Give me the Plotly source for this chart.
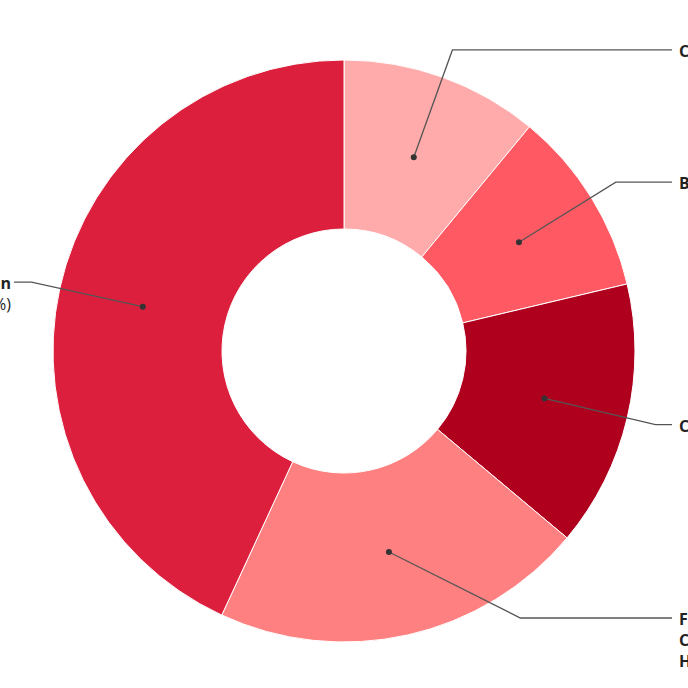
import math
import plotly.graph_objects as go

# ---- data ----
categories = ["Clothing", "Beauty", "Cosmetics", "Food, Cleaning and Household", "Transportation and Communication"]
shares = [11, 10.3, 14.8, 20.8, 43.1]
pct_labels = ["11%", "10%", "15%", "21%", "43%"]
colors = ["#FFABAB", "#FF5A64", "#AF001E", "#FF8080", "#DC1F3C"]
label_texts = [
    "<b>Clothing</b> (11%)",
    "<b>Beauty</b> (10%)",
    "<b>Cosmetics</b> (15%)",
    "<b>Food,</b><br><b>Cleaning and</b><br><b>Household</b> (21%)",
    "<b>Transportation and Communication</b><br>(43%)",
]

W = H = 688
cx, cy = 344, 351
R = 291
HOLE = 122 / 291

fig = go.Figure(go.Pie(
    labels=categories, values=shares, sort=False, direction="clockwise", rotation=0,
    hole=HOLE, textinfo="none", hoverinfo="label+percent",
    marker=dict(colors=colors, line=dict(color="white", width=1)),
    domain=dict(x=[(cx - R) / W, (cx + R) / W], y=[1 - (cy + R) / H, 1 - (cy - R) / H]),
    showlegend=False,
))

def px(x):
    return x / W

def py(y):
    return 1 - y / H

total = sum(shares)
cum = 0
shapes = []
annotations = []
r_dot = 206
r_elbow = 320
label_y_override = {3: 618}
for i, v in enumerate(shares):
    mid = (cum + v / 2) / total * 2 * math.pi
    cum += v
    dx, dy = math.sin(mid), -math.cos(mid)
    x0, y0 = cx + r_dot * dx, cy + r_dot * dy
    right = dx >= 0
    if i in label_y_override:
        ly = label_y_override[i]
        ex = cx + math.sqrt(r_elbow ** 2 - (ly - cy) ** 2) * (1 if right else -1)
    else:
        ex, ly = cx + r_elbow * dx, cy + r_elbow * dy
    endx = 672 if right else 14
    path = f"M {px(x0)},{py(y0)} L {px(ex)},{py(ly)} L {px(endx)},{py(ly)}"
    shapes.append(dict(type="path", xref="paper", yref="paper", path=path,
                       line=dict(color="#555555", width=1.3)))
    shapes.append(dict(type="circle", xref="paper", yref="paper",
                       x0=px(x0 - 3), x1=px(x0 + 3), y0=py(y0 + 3), y1=py(y0 - 3),
                       fillcolor="#333333", line=dict(width=0)))
    annotations.append(dict(
        xref="paper", yref="paper", x=px(677 if right else 13), y=py(ly),
        xanchor="left" if right else "right", yanchor="top",
        yshift=12, text=label_texts[i], showarrow=False, align="left" if right else "right",
        font=dict(family="Open Sans", size=16, color="#222222"),
    ))

fig.update_layout(
    width=W, height=H, margin=dict(l=0, r=0, t=0, b=0),
    paper_bgcolor="white", plot_bgcolor="white",
    shapes=shapes, annotations=annotations,
)
fig.write_html("out.html", config={"displayModeBar": False},
               post_script="document.body.style.margin='0';document.body.style.overflow='hidden';")
